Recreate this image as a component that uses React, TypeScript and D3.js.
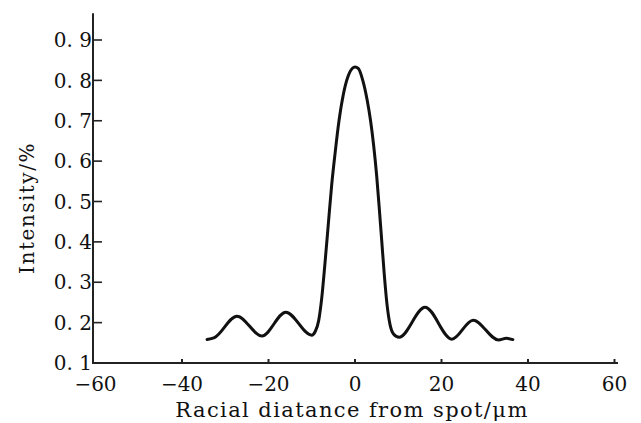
import React from 'react';
import * as d3 from 'd3';

// profile (x in um, y in %)
const distance = [
  -34.2, -32.5, -27.3, -21.5, -16.0,
  -10.0, -9.2, -8.4, -7.7, -7.0, -6.2, -5.4, -4.6, -3.7, -2.7, -1.6, -0.6, 0,
  0.8, 1.8, 2.8, 3.6, 4.3, 5.0, 5.6, 6.2, 6.8, 7.4, 8.1, 8.9, 10.2,
  16.2, 22.4, 27.3, 33.2, 35.0, 36.5,
];
const intensity = [
  0.158, 0.163, 0.216, 0.167, 0.226,
  0.169, 0.178, 0.205, 0.26, 0.34, 0.44, 0.54, 0.62, 0.7, 0.765, 0.81, 0.83, 0.833,
  0.829, 0.8, 0.752, 0.7, 0.64, 0.565, 0.485, 0.4, 0.315, 0.245, 0.195, 0.172, 0.164,
  0.238, 0.159, 0.206, 0.157, 0.161, 0.158,
];

const xTicks = [-60, -40, -20, 0, 20, 40, 60];
const yTicks = [0.1, 0.2, 0.3, 0.4, 0.5, 0.6, 0.7, 0.8, 0.9];

const xTitle = 'Racial diatance from spot/μm';
const yTitle = 'Intensity/%';

const W = 641;
const H = 423;
const FONT = '"DejaVu Serif", serif';

const App = () => {
  const x = d3.scaleLinear().domain([-60, 60]).range([95.5, 614.5]);
  const y = d3.scaleLinear().domain([0.1, 0.9]).range([363, 40]);

  const pts: [number, number][] = distance.map((d, i) => [d, intensity[i]]);
  const line = d3.line<[number, number]>()
    .x(d => x(d[0]))
    .y(d => y(d[1]))
    .curve(d3.curveMonotoneX);

  const axisX0 = 93;
  const axisY0 = y(0.1);

  const fmtY = (v: number) => `0. ${Math.round(v * 10)}`;
  const fmtX = (v: number) => (v < 0 ? `\u2212${-v}` : `${v}`);

  return (
    <div style={{ position: 'fixed', left: 0, top: 0, width: W, height: H, background: '#fff' }}>
      <svg width={W} height={H} style={{ display: 'block' }} fontFamily={FONT}>
        {/* axes */}
        <line x1={axisX0} y1={axisY0} x2={618} y2={axisY0} stroke="#222" strokeWidth={2} />
        <line x1={axisX0} y1={axisY0 + 1} x2={axisX0} y2={y(0.966)} stroke="#222" strokeWidth={2} />

        {yTicks.map(t => (
          <g key={'y' + t}>
            {t > 0.1 && (
              <line x1={axisX0} x2={axisX0 + 9} y1={y(t)} y2={y(t)} stroke="#222" strokeWidth={1.6} />
            )}
            <text x={axisX0 - 1} y={y(t)} dy="0.36em" textAnchor="end" fontSize={20} fill="#111">
              {fmtY(t)}
            </text>
          </g>
        ))}

        {xTicks.map(t => (
          <g key={'x' + t}>
            {t > -60 && (
              <line x1={x(t)} x2={x(t)} y1={axisY0} y2={axisY0 - 4} stroke="#222" strokeWidth={2} />
            )}
            <text x={x(t)} y={axisY0 + 21} dy="0.36em" textAnchor="middle" fontSize={20} fill="#111">
              {fmtX(t)}
            </text>
          </g>
        ))}

        <text x={352} y={417} textAnchor="middle" fontSize={21} letterSpacing={1.4} fill="#111">
          {xTitle}
        </text>
        <text
          transform={`translate(34,208) rotate(-90)`}
          textAnchor="middle"
          fontSize={20}
          letterSpacing={1.5}
          fill="#111"
        >
          {yTitle}
        </text>

        <path d={line(pts) || ''} fill="none" stroke="#111" strokeWidth={3} strokeLinejoin="round" strokeLinecap="round" />
      </svg>
    </div>
  );
};

export default App;
